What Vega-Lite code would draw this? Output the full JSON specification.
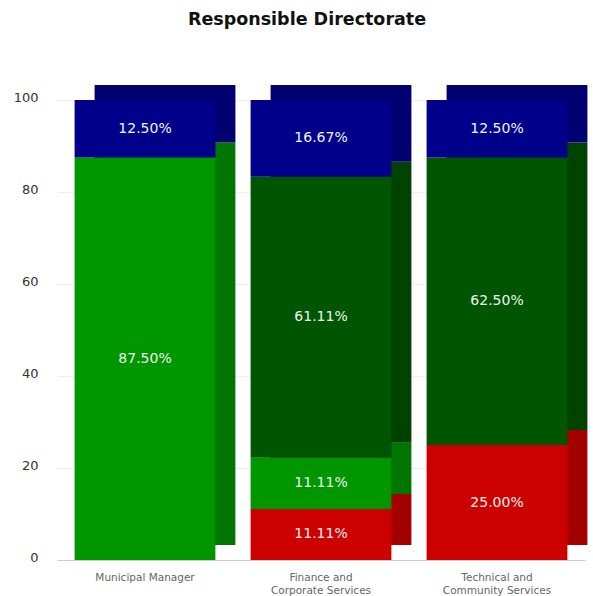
{
  "$schema": "https://vega.github.io/schema/vega-lite/v6.json",
  "width": 528,
  "height": 460,
  "autosize": {"type": "none"},
  "padding": {"left": 57, "top": 100, "right": 8, "bottom": 36},
  "background": "white",
  "title": {"text": "Responsible Directorate", "font": "DejaVu Sans", "fontSize": 17.5, "fontWeight": "bold", "color": "#111", "offset": 57, "dx": -14},
  "config": {"view": {"stroke": null}, "font": "DejaVu Sans"},
  "data": {"values": [
    {"directorate": "Municipal Manager", "status": "Red", "order": 1, "pct": 0},
    {"directorate": "Municipal Manager", "status": "Green", "order": 2, "pct": 87.5},
    {"directorate": "Municipal Manager", "status": "Dark Green", "order": 3, "pct": 0},
    {"directorate": "Municipal Manager", "status": "Blue", "order": 4, "pct": 12.5},
    {"directorate": "Finance and Corporate Services", "status": "Red", "order": 1, "pct": 11.11},
    {"directorate": "Finance and Corporate Services", "status": "Green", "order": 2, "pct": 11.11},
    {"directorate": "Finance and Corporate Services", "status": "Dark Green", "order": 3, "pct": 61.11},
    {"directorate": "Finance and Corporate Services", "status": "Blue", "order": 4, "pct": 16.67},
    {"directorate": "Technical and Community Services", "status": "Red", "order": 1, "pct": 25},
    {"directorate": "Technical and Community Services", "status": "Green", "order": 2, "pct": 0},
    {"directorate": "Technical and Community Services", "status": "Dark Green", "order": 3, "pct": 62.5},
    {"directorate": "Technical and Community Services", "status": "Blue", "order": 4, "pct": 12.5}
  ]},
  "transform": [
    {"filter": "datum.pct > 0"},
    {"stack": "pct", "groupby": ["directorate"], "sort": [{"field": "order", "order": "ascending"}], "as": ["y0", "y1"]},
    {"calculate": "(datum.y0 + datum.y1) / 2", "as": "mid"},
    {"calculate": "format(datum.pct, '.2f') + '%'", "as": "label"}
  ],
  "encoding": {
    "x": {
      "field": "directorate", "type": "nominal", "sort": null,
      "scale": {"paddingInner": 0.2, "paddingOuter": 0.1},
      "axis": {"title": null, "labelAngle": 0, "labelFontSize": 10.5, "labelColor": "#666", "labelPadding": 12, "ticks": false, "domainColor": "#cccccc", "labelLineHeight": 13,
        "labelExpr": "split(replace(datum.label, 'and ', 'and|'), '|')"}
    }
  },
  "layer": [
    {
      "mark": {"type": "bar", "xOffset": 20, "yOffset": -15, "y2Offset": -15},
      "encoding": {
        "y": {"field": "y1", "type": "quantitative", "scale": {"domain": [0, 100], "nice": false},
          "axis": {"title": null, "values": [0, 20, 40, 60, 80, 100], "labelFontSize": 13, "labelColor": "#333", "labelPadding": 19, "labelOffset": -3, "ticks": false, "domain": false, "gridColor": "#eeeeee"}},
        "y2": {"field": "y0"},
        "color": {"field": "status", "type": "nominal", "legend": null,
          "scale": {"domain": ["Red", "Green", "Dark Green", "Blue"], "range": ["#a30000", "#007500", "#004200", "#000070"]}}
      }
    },
    {
      "mark": {"type": "bar"},
      "encoding": {
        "y": {"field": "y1", "type": "quantitative"},
        "y2": {"field": "y0"},
        "color": {"field": "status", "type": "nominal", "legend": null,
          "scale": {"domain": ["Red", "Green", "Dark Green", "Blue"], "range": ["#cc0000", "#009600", "#005500", "#00008a"]}}
      }
    },
    {
      "mark": {"type": "text", "color": "#eef4ee", "fontSize": 14, "fontWeight": 500, "font": "DejaVu Sans"},
      "encoding": {
        "y": {"field": "mid", "type": "quantitative"},
        "text": {"field": "label"}
      }
    }
  ],
  "resolve": {"scale": {"color": "independent"}}
}
